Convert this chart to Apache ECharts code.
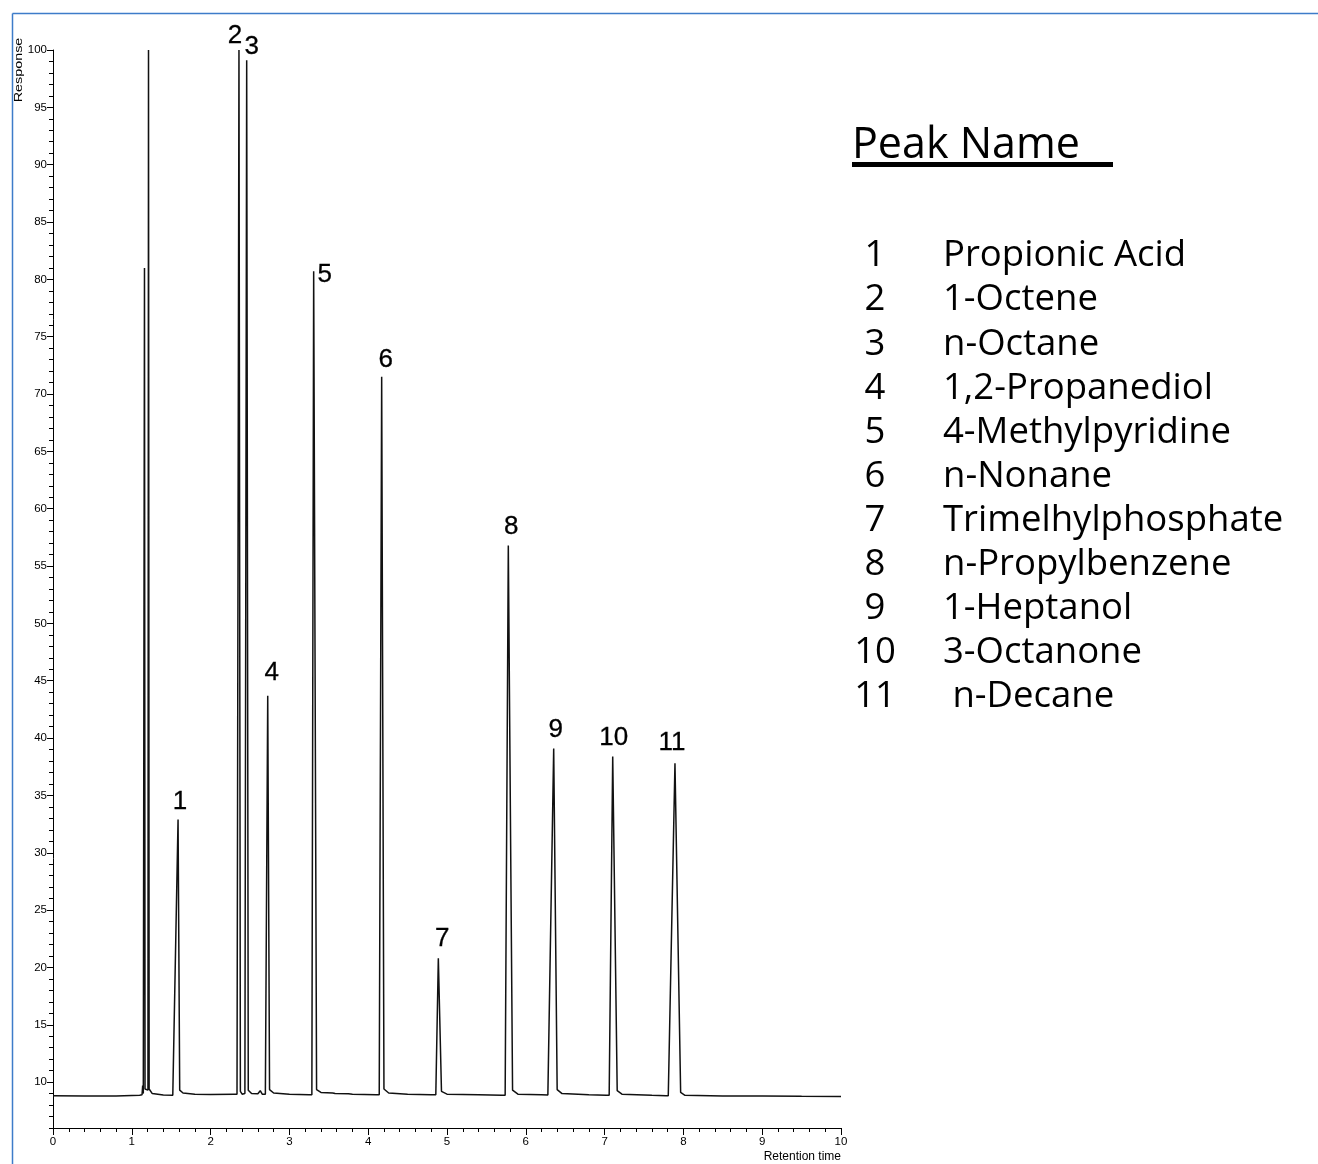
<!DOCTYPE html>
<html>
<head>
<meta charset="utf-8">
<script src="https://cdn.jsdelivr.net/npm/echarts@6/dist/echarts.min.js"></script>
<style>
  html, body { margin: 0; padding: 0; background: #fff; }
  #chart { width: 1318px; height: 1164px; }
</style>
</head>
<body>
<div id="chart"></div>
<script>
    // ===== data =====
    var peakIds = ['1', '2', '3', '4', '5', '6', '7', '8', '9', '10', '11'];
    var peakNames = ['Propionic Acid', '1-Octene', 'n-Octane', '1,2-Propanediol', '4-Methylpyridine',
        'n-Nonane', 'Trimelhylphosphate', 'n-Propylbenzene', '1-Heptanol', '3-Octanone', ' n-Decane'];
    var apexTime = [1.587, 2.360, 2.458, 2.725, 3.308, 4.171, 4.890, 5.778, 6.354, 7.103, 7.893];
    var apexResp = [32.9, 100.0, 99.1, 43.7, 80.7, 71.5, 20.8, 56.8, 39.1, 38.4, 37.8];

    var xTicks = [0, 1, 2, 3, 4, 5, 6, 7, 8, 9, 10];
    var yTicks = [10, 15, 20, 25, 30, 35, 40, 45, 50, 55, 60, 65, 70, 75, 80, 85, 90, 95, 100];

    // detector trace [retention time, response]
    var trace = [
        [0.00, 8.82], [0.40, 8.78], [0.80, 8.80], [1.10, 8.86],
        [1.130, 8.90], [1.138, 9.7], [1.146, 9.0],
        [1.155, 9.0], [1.161, 81.0], [1.168, 9.4],
        [1.205, 9.3], [1.212, 100.0], [1.220, 9.4],
        [1.26, 9.0], [1.40, 8.88], [1.52, 8.86],
        [1.545, 8.9], [1.587, 32.9], [1.608, 9.3], [1.65, 9.05], [1.80, 8.95], [2.00, 8.92], [2.30, 8.95],
        [2.335, 8.95], [2.360, 100.0], [2.378, 9.2], [2.40, 8.95],
        [2.435, 9.0], [2.458, 99.1], [2.478, 9.3],
        [2.52, 9.0], [2.60, 8.98], [2.63, 9.25], [2.655, 8.95],
        [2.695, 8.95], [2.725, 43.7], [2.748, 9.35], [2.80, 9.05], [3.00, 8.95], [3.25, 8.9],
        [3.285, 8.9], [3.308, 80.7], [3.345, 9.35], [3.40, 9.1], [3.55, 9.05], [3.56, 9.15], [3.58, 9.0],
        [3.75, 8.98], [3.77, 9.1], [3.80, 8.95], [4.10, 8.9],
        [4.140, 8.9], [4.171, 71.5], [4.200, 9.4], [4.26, 9.05], [4.50, 8.95], [4.80, 8.9],
        [4.858, 8.9], [4.890, 20.8], [4.930, 9.2], [5.00, 8.95], [5.40, 8.9], [5.70, 8.85],
        [5.738, 8.85], [5.778, 56.8], [5.832, 9.3], [5.90, 8.95], [6.20, 8.9], [6.28, 8.88],
        [6.305, 8.88], [6.354, 39.1], [6.398, 9.35], [6.46, 9.0], [6.80, 8.9], [7.02, 8.85],
        [7.058, 8.85], [7.103, 38.4], [7.160, 9.25], [7.22, 8.95], [7.60, 8.85], [7.78, 8.82],
        [7.808, 8.82], [7.893, 37.8], [7.965, 9.1], [8.02, 8.85], [8.50, 8.78], [9.00, 8.80],
        [9.50, 8.76], [10.00, 8.74]
    ];

    // ===== chart =====
    var chart = echarts.init(document.getElementById('chart'));

    // label nudges [dx, gap above apex]
    var labelNudge = [[2, 4], [-4, 1], [5, 0], [4, 9], [11, -17], [4, 4], [4, 6], [3, 5], [2, 5], [1, 5], [-3, 7]];
    var labelData = apexTime.map(function (t, i) {
        return {
            value: [t, apexResp[i]],
            name: peakIds[i],
            label: { offset: [labelNudge[i][0], -labelNudge[i][1]] }
        };
    });

    var axisFont = { color: '#000', fontSize: 11.5, fontFamily: 'Liberation Sans, Arial, sans-serif' };
    var blue = '#3d7cc9';
    var legendFont = '36.5px "Open Sans", sans-serif';

    var graphics = [
        { type: 'line', shape: { x1: 12.5, y1: 13.5, x2: 1318, y2: 13.5 }, style: { stroke: blue, lineWidth: 1.5 } },
        { type: 'line', shape: { x1: 12.5, y1: 13.5, x2: 12.5, y2: 1164 }, style: { stroke: blue, lineWidth: 1.5 } },
        { type: 'text', x: 19, y: 70, rotation: Math.PI / 2, scaleX: 1.25,
          style: { text: 'Response', fill: '#000', font: '11.5px "Liberation Sans", Arial, sans-serif', textAlign: 'center', textVerticalAlign: 'middle' } },
        { type: 'text', x: 841, y: 1157,
          style: { text: 'Retention time', fill: '#000', font: '12px "Liberation Sans", Arial, sans-serif', textAlign: 'right', textVerticalAlign: 'middle' } },
        { type: 'text', x: 852, y: 146,
          style: { text: 'Peak Name', fill: '#000', font: '43px "Open Sans", sans-serif', textAlign: 'left', textVerticalAlign: 'middle' } },
        { type: 'rect', shape: { x: 852, y: 162, width: 261, height: 5 }, style: { fill: '#000' } }
    ];
    peakIds.forEach(function (id, i) {
        var y = 256 + i * 44.1;
        graphics.push({ type: 'text', x: 875, y: y,
            style: { text: id, fill: '#000', font: legendFont, textAlign: 'center', textVerticalAlign: 'middle' } });
        graphics.push({ type: 'text', x: 943, y: y,
            style: { text: peakNames[i], fill: '#000', font: legendFont, textAlign: 'left', textVerticalAlign: 'middle' } });
    });

    chart.setOption({
        animation: false,
        grid: { left: 53, top: 50, width: 788, height: 1078 },
        xAxis: {
            type: 'value', min: 0, max: 10, interval: 1,
            axisLine: { lineStyle: { color: '#000', width: 1 } },
            axisTick: { length: 7, lineStyle: { color: '#000' } },
            minorTick: { show: true, splitNumber: 5, length: 4, lineStyle: { color: '#000' } },
            axisLabel: Object.assign({ margin: 8, customValues: xTicks }, axisFont),
            splitLine: { show: false }
        },
        yAxis: [
            {
                type: 'value', min: 6, max: 100, interval: 1,
                axisLine: { show: true, lineStyle: { color: '#000', width: 1 } },
                axisTick: { show: true, length: 4, lineStyle: { color: '#000' } },
                axisLabel: { show: false },
                splitLine: { show: false }
            },
            {
                type: 'value', min: 6, max: 100, interval: 1, position: 'left',
                axisLine: { show: false },
                axisTick: { show: true, length: 6, customValues: yTicks, lineStyle: { color: '#000' } },
                axisLabel: Object.assign({ margin: 6, customValues: yTicks }, axisFont),
                splitLine: { show: false }
            }
        ],
        graphic: graphics,
        series: [
            {
                type: 'line',
                data: trace,
                showSymbol: false,
                symbol: 'none',
                lineStyle: { color: '#111', width: 1.5 },
                clip: false
            },
            {
                type: 'scatter',
                data: labelData,
                symbolSize: 1,
                itemStyle: { color: 'rgba(0,0,0,0)', opacity: 1 },
                label: {
                    show: true, position: 'top', distance: 0,
                    formatter: '{b}',
                    color: '#000', fontSize: 26, lineHeight: 26, opacity: 1,
                    textBorderColor: '#000', textBorderWidth: 0.3,
                    fontFamily: '"Liberation Sans", Arial, sans-serif'
                },
                z: 5
            }
        ]
    });
</script>
</body>
</html>
